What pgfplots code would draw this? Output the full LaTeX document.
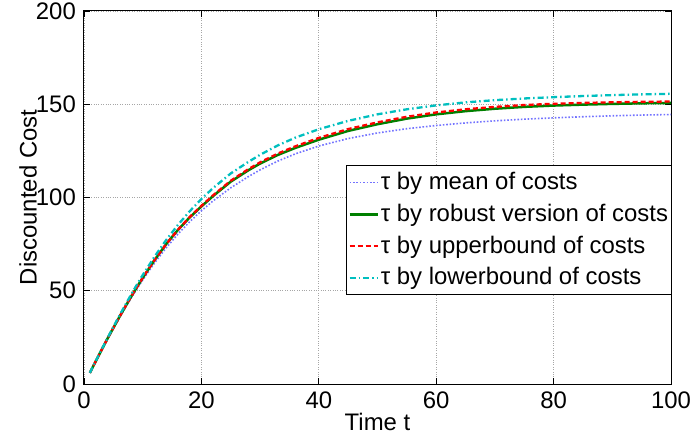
\documentclass[border=0pt]{standalone}
\usepackage{pgfplots}
\pgfplotsset{compat=1.18}
\usepackage{fontspec}
\setmainfont{Liberation Sans}
\definecolor{mblue}{rgb}{0.45,0.45,1}
\definecolor{mgreen}{rgb}{0,0.5,0}
\definecolor{mcyan}{rgb}{0,0.75,0.75}
\begin{document}
\fontsize{24}{28}\selectfont
\begin{tikzpicture}
\begin{axis}[
  at={(0,0)}, anchor=origin,
  scale only axis, width=587bp, height=373bp,
  xmin=0, xmax=100, ymin=0, ymax=200,
  xtick={0,20,40,60,80,100}, ytick={0,50,100,150,200},
  /pgf/number format/assume math mode=true,
  tick label style={font=\fontsize{24}{28}\selectfont},
  label style={font=\fontsize{24}{28}\selectfont},
  xlabel={Time t}, ylabel={Discounted Cost},
  every axis x label/.style={at={([yshift=-38bp]axis description cs:0.5,0)}, anchor=center},
  every axis y label/.style={at={([xshift=-56bp]axis description cs:0,0.5)}, rotate=90, anchor=center},
  tick align=inside, major tick length=6bp,
  xtick pos=both, ytick pos=both,
  axis line style={line width=1bp},
  every tick/.style={black, line width=0.8bp},
  grid=major, grid style={gray!70, dotted, line width=0.7bp},
  legend style={at={(0.446,0.586)}, anchor=north west, draw=black, line width=1bp, fill=white,
    font=\fontsize{24}{28}\selectfont, cells={anchor=west}, row sep=7bp, inner xsep=2bp, inner ysep=4bp},
  legend image code/.code={\draw[#1] plot coordinates {(0bp,0bp) (28bp,0bp)};},
]
\addplot[mblue, line width=1.6bp, dash pattern=on 1.6bp off 1.8bp] coordinates {
(1,6) (2,12.1) (3,18.1) (4,24.0) (5,29.7) (6,35.3) (7,40.7) (8,45.9) (9,50.9) (10,55.7) (12,64.8) (14,73.0) (16,80.4) (18,87.0) (20,92.9) (22,98.2) (25,105.2) (28,111.2) (30,114.8) (33,119.5) (36,123.4) (40,127.6) (45,131.6) (50,134.6) (55,136.9) (60,138.6) (65,140.0) (70,141.1) (75,142.0) (80,142.7) (85,143.3) (90,143.8) (95,144.2) (100,144.5)};
\addlegendentry{τ by mean of costs}
\addplot[mgreen, line width=2.5bp] coordinates {
(1,6) (2,12.2) (3,18.3) (4,24.3) (5,30.1) (6,35.8) (7,41.3) (8,46.7) (9,51.9) (10,56.9) (12,66.4) (14,75.0) (16,82.6) (18,89.3) (20,95.2) (22,100.8) (25,108.5) (28,114.6) (30,118.2) (33,122.8) (36,126.6) (40,131.0) (45,135.7) (50,139.3) (55,142.3) (60,144.6) (65,146.3) (70,147.6) (75,148.6) (80,149.3) (85,149.8) (90,150.2) (95,150.5) (100,150.7)};
\addlegendentry{τ by robust version of costs}
\addplot[red, line width=2.3bp, dash pattern=on 5bp off 3bp] coordinates {
(1,6) (2,12.2) (3,18.3) (4,24.3) (5,30.1) (6,35.8) (7,41.3) (8,46.7) (9,51.9) (10,56.9) (12,66.4) (14,75.0) (16,82.7) (18,89.5) (20,95.5) (22,101.2) (25,109.0) (28,115.2) (30,118.85) (33,123.55) (36,127.45) (40,131.95) (45,136.7) (50,140.3) (55,143.3) (60,145.6) (65,147.3) (70,148.6) (75,149.6) (80,150.25) (85,150.7) (90,151.05) (95,151.3) (100,151.45)};
\addlegendentry{τ by upperbound of costs}
\addplot[mcyan, line width=2.3bp, dash pattern=on 6bp off 3bp on 1.5bp off 3bp] coordinates {
(1,6) (2,12.3) (3,18.5) (4,24.6) (5,30.6) (6,36.5) (7,42.2) (8,47.8) (9,53.2) (10,58.4) (12,68.2) (14,77.2) (16,85.3) (18,92.6) (20,99.2) (22,105.1) (25,112.9) (28,119.1) (30,122.9) (33,127.9) (36,132.1) (40,136.6) (45,141.1) (50,144.6) (55,147.3) (60,149.4) (65,151.0) (70,152.2) (75,153.1) (80,153.8) (85,154.4) (90,154.9) (95,155.3) (100,155.6)};
\addlegendentry{τ by lowerbound of costs}
\end{axis}
\pgfresetboundingbox
\useasboundingbox (-84bp,-56bp) rectangle (607bp,384bp);
\end{tikzpicture}
\end{document}
